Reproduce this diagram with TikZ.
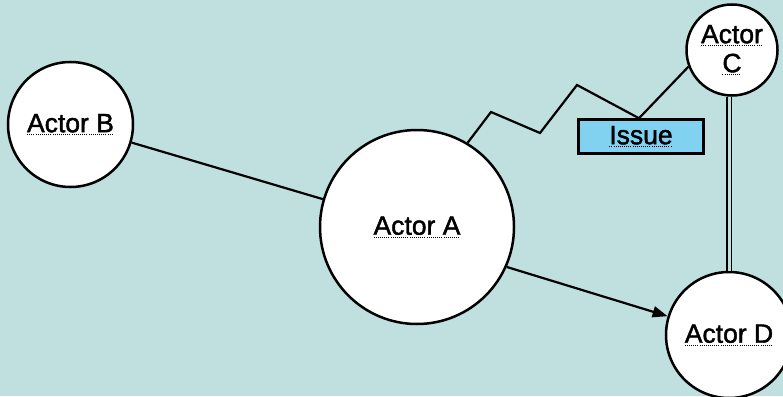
\documentclass[tikz,border=0pt]{standalone}
\usepackage{fontspec}
\setmainfont[FakeBold=1.6]{Liberation Sans}
\usetikzlibrary{arrows.meta,calc}
\newcommand\dotul[1]{\setbox0=\hbox{#1}\hbox{\rlap{\lower2.8pt\hbox to \wd0{\xleaders\hbox{\rule{1pt}{1pt}\kern1.1pt}\hfill}}\box0}}
\definecolor{bgc}{HTML}{C0DFDF}
\definecolor{issuec}{HTML}{80D2F0}
\begin{document}
\begin{tikzpicture}[x=1pt,y=-1pt,
  actor/.style={circle,draw=black,line width=2.5pt,fill=white,inner sep=0pt,
    font=\fontsize{26.5}{31}\selectfont,align=center},
  issuebox/.style={rectangle,draw=black,line width=2.5pt,fill=issuec,inner sep=0pt,
    minimum width=125pt,minimum height=34pt,font=\fontsize{26.5}{31}\selectfont},
  link/.style={line width=2.2pt,black},
  pair/.style={double=bgc,double distance=3pt,line width=1.7pt,black}]
\fill[bgc] (0,0) rectangle (783,396);
\useasboundingbox (0,0) rectangle (783,396);
\node[actor,minimum size=125pt] (b) at (70.5,124.5) {\dotul{Actor B}};
\node[actor,minimum size=194pt] (a) at (417,227) {\dotul{Actor A}};
\node[actor,minimum size=91pt] (c) at (732,50) {\dotul{Actor}\\[-2pt]\dotul{C}};
\node[actor,minimum size=126pt] (d) at (729,335) {\dotul{Actor D}};
\node[issuebox] (issue) at (641,136.5) {\dotul{Issue}};
\coordinate (z1) at (491,112);
\coordinate (z2) at (540,133);
\coordinate (z3) at (577,85);
\draw[link] (b) -- (a);
\draw[link,-{Triangle[length=15pt,width=11pt]}] (a.-24) -- (d);
\draw[link,line join=miter] (a.59.5) -- (z1) -- (z2) -- (z3) -- ($(issue.north)+(-2,0)$) -- (c.201);
\draw[pair] (d.north) -- (d.north |- c.south);
\end{tikzpicture}
\end{document}
